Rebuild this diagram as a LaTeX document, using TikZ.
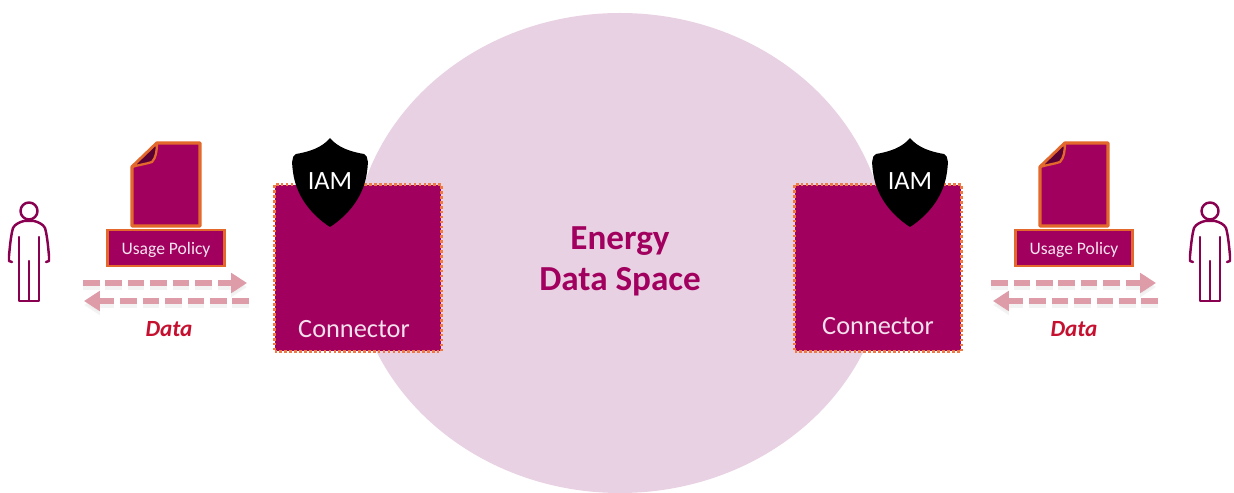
\documentclass[tikz,border=0pt]{standalone}
\usepackage{fontspec}
\setmainfont{Carlito}
\usetikzlibrary{positioning}
\usetikzlibrary{shapes,arrows,calc,arrows.meta}
\definecolor{spacepink}{HTML}{E8D1E3}
\definecolor{boxpurple}{HTML}{A1005F}
\definecolor{edgeorange}{HTML}{EE7A45}
\definecolor{docorange}{HTML}{E2682C}
\definecolor{flowpink}{HTML}{DE9BA8}
\definecolor{datared}{HTML}{C5102F}
\tikzset{
    connectorbox/.style={draw=edgeorange,fill=boxpurple,line width=1.5pt,dash pattern=on 1.5pt off 1.3pt,minimum size=3.34cm,inner sep=0pt},
    policybox/.style={draw=docorange,fill=boxpurple,line width=1.2pt,minimum width=2.34cm,minimum height=0.72cm,inner sep=0pt,text=white!90!boxpurple,font=\fontsize{10}{12}\selectfont},
    docshape/.style={draw=docorange,fill=boxpurple,line width=1.9pt,line join=round},
    personline/.style={draw=boxpurple!85!black,line width=1.4pt,line join=round,line cap=round},
    flowline/.style={draw=flowpink,line width=2.9pt,dash pattern=on 9.4pt off 3.4pt,-{Triangle[length=9pt,width=11pt]}},
    flowshade/.style={draw=black!8,line width=3pt,dash pattern=on 9.4pt off 3.4pt,-{Triangle[length=9pt,width=11pt]},opacity=0.6},
    connectorlabel/.style={text=white!88!boxpurple,font=\fontsize{15}{18}\selectfont},
    iamlabel/.style={text=white,font=\fontsize{15}{17}\selectfont},
    datalabel/.style={text=datared,font=\fontsize{13.2}{16}\selectfont\bfseries\itshape},
    titlelabel/.style={text=boxpurple,font=\fontsize{20}{24}\selectfont\bfseries},
}
\begin{document}
\begin{tikzpicture}[x=0.02cm,y=-0.02cm]
    \useasboundingbox (0,0) rectangle (1234,493);

    % Data space in the middle
    \fill[spacepink] (620,253) ellipse [x radius=267,y radius=240];
    \node[titlelabel] (energy) at (620,241) {Energy};
    \node[titlelabel] (space) at (620,282) {Data Space};

    % Connector with its shield on both sides
    \foreach \name/\bx/\by/\sx/\lx/\ly in {left/358/268/330/354/329,right/878/268/910/878/326}{
        \node[connectorbox] (conn\name) at (\bx,\by) {};
        \node[connectorlabel] (label\name) at (\lx,\ly) {Connector};
        \fill[black] (\sx,138) .. controls (\sx+8,148) and (\sx+22,152) .. (\sx+34,154)
            .. controls (\sx+39,156) and (\sx+38,165) .. (\sx+37,172)
            .. controls (\sx+34,195) and (\sx+20,214) .. (\sx,227)
            .. controls (\sx-20,214) and (\sx-34,195) .. (\sx-37,172)
            .. controls (\sx-38,165) and (\sx-39,156) .. (\sx-34,154)
            .. controls (\sx-22,152) and (\sx-8,148) .. (\sx,138) -- cycle;
        \node[iamlabel] (iam\name) at (\sx,181) {IAM};
    }

    % Document and usage policy
    \foreach \name/\dx in {left/132,right/1040}{
        \draw[docshape] (\dx+25,143) -- (\dx+68,143) -- (\dx+68,226) -- (\dx,226) -- (\dx,167) -- cycle;
        \draw[docshape,fill=boxpurple!55!black,line width=1.3pt] (\dx+25,143) .. controls (\dx+25,150) and (\dx+24,158) .. (\dx+20,162) .. controls (\dx+14,164) and (\dx+6,165) .. (\dx,167) -- cycle;
        \node[policybox,text depth=0pt] (policy\name) at (\dx+34,248) {Usage Policy};
    }

    % Person at both ends
    \foreach \px in {29,1210}{
        \draw[personline] (\px,211) circle (8.5);
        \draw[personline] (\px-10,237) -- (\px-10,301) -- (\px+10,301) -- (\px+10,237);
        \draw[personline] (\px,261) -- (\px,301);
        \draw[personline] (\px-17,262) -- (\px-20,261) -- (\px-20,256) .. controls (\px-19,245) and (\px-18,235) .. (\px-16,228)
            .. controls (\px-14,224) and (\px-9,222) .. (\px-5,221) -- (\px+5,221)
            .. controls (\px+9,222) and (\px+14,224) .. (\px+16,228)
            .. controls (\px+18,235) and (\px+19,245) .. (\px+20,256) -- (\px+20,261) -- (\px+17,262);
    }

    % Data flows
    \foreach \name/\ax/\bx/\cx/\dx/\tx in {left/83/247/249/84/169,right/991/1156/1158/993/1074}{
        \coordinate (out\name) at (\ax,283);
        \coordinate (outend\name) at (\bx,283);
        \coordinate (in\name) at (\cx,301);
        \coordinate (inend\name) at (\dx,301);
        \draw[flowshade] ($(out\name)+(0,4)$) -- ($(outend\name)+(0,4)$);
        \draw[flowshade] ($(in\name)+(0,4)$) -- ($(inend\name)+(0,4)$);
        \draw[flowline] (out\name) -- (outend\name);
        \draw[flowline] (in\name) -- (inend\name);
        \node[datalabel] (data\name) at (\tx,329) {Data};
    }
\end{tikzpicture}
\end{document}
